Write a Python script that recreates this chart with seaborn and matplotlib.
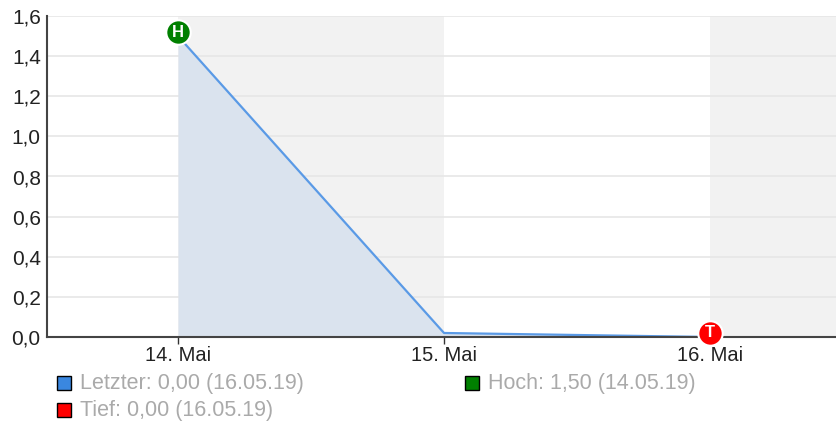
import matplotlib
matplotlib.use("Agg")
import matplotlib.pyplot as plt
import seaborn as sns
import pandas as pd
from matplotlib.patches import Rectangle

# ---- data ----
dates = ["14. Mai", "15. Mai", "16. Mai"]
values = [1.50, 0.02, 0.00]
y_ticks = [0.0, 0.2, 0.4, 0.6, 0.8, 1.0, 1.2, 1.4, 1.6]
legend_labels = ["Letzter: 0,00 (16.05.19)", "Hoch: 1,50 (14.05.19)", "Tief: 0,00 (16.05.19)"]
high_idx = 0
low_idx = 2

sns.set_theme(style="white")
plt.rcParams["font.family"] = ["Liberation Sans", "DejaVu Sans"]

W, H = 836, 423
fig = plt.figure(figsize=(W / 100, H / 100), dpi=100)
ax = fig.add_axes([47 / W, 1 - 337 / H, (W - 47) / W, (337 - 16) / H])

pos = list(range(len(dates)))
df = pd.DataFrame({"x": pos, "y": values})

ax.set_xlim(-0.4925, 2.4737)
ax.set_ylim(0, 1.6)

# alternating bands
for i in range(len(dates)):
    if i % 2 == 0:
        ax.axvspan(pos[i], pos[i] + 1, color="#f2f2f2", zorder=0, lw=0)

ax.set_yticks(y_ticks)
ax.set_yticklabels([f"{v:.1f}".replace(".", ",") for v in y_ticks])
ax.yaxis.grid(True, color="#e6e6e6", lw=1.2, zorder=1)
ax.set_axisbelow(True)

ax.fill_between(df["x"], df["y"], 0, color="#dae3ee", zorder=2, lw=0)
sns.lineplot(data=df, x="x", y="y", ax=ax, color="#5a9ae6", lw=1.6, zorder=3)

# high / low markers
px = 4 / 200.6  # ~4 px offset in data units
ax.scatter([pos[high_idx]], [values[high_idx] + px], s=310, color="#008000",
           edgecolor="white", linewidth=1.5, zorder=5, clip_on=False)
ax.text(pos[high_idx], values[high_idx] + px, "H", color="white", fontweight="bold",
        fontsize=12, ha="center", va="center", zorder=6)
ax.scatter([pos[low_idx]], [values[low_idx] + px], s=310, color="#ff0000",
           edgecolor="white", linewidth=1.5, zorder=5, clip_on=False)
ax.text(pos[low_idx], values[low_idx] + px, "T", color="white", fontweight="bold",
        fontsize=12, ha="center", va="center", zorder=6)

ax.set_xticks(pos)
ax.set_xticklabels(dates)
ax.set_xlabel("")
ax.set_ylabel("")
ax.tick_params(axis="x", length=5, width=1, color="#333333", labelsize=14.5,
               labelcolor="#222222", pad=1.5, bottom=True)
ax.tick_params(axis="y", length=0, labelsize=15, labelcolor="#222222", pad=4.5)

for s in ["top", "right"]:
    ax.spines[s].set_visible(False)
for s in ["left", "bottom"]:
    ax.spines[s].set_visible(True)
    ax.spines[s].set_color("#444444")
    ax.spines[s].set_linewidth(1.5)
ax.spines["bottom"].set_zorder(4)

# legend (manual)
items = [
    (legend_labels[0], "#3a87e0", 57, 376),
    (legend_labels[1], "#008000", 465, 376),
    (legend_labels[2], "#ff0000", 57, 403),
]
for label, col, x0, y0 in items:
    fig.patches.append(Rectangle((x0 / W, 1 - (y0 + 14) / H), 14 / W, 14 / H,
                                 transform=fig.transFigure, facecolor=col,
                                 edgecolor="black", lw=1))
    fig.text((x0 + 23) / W, 1 - (y0 + 7) / H, label, color="#aaaaaa",
             fontsize=15.5, ha="left", va="center")

fig.savefig("out.png", dpi=100)
